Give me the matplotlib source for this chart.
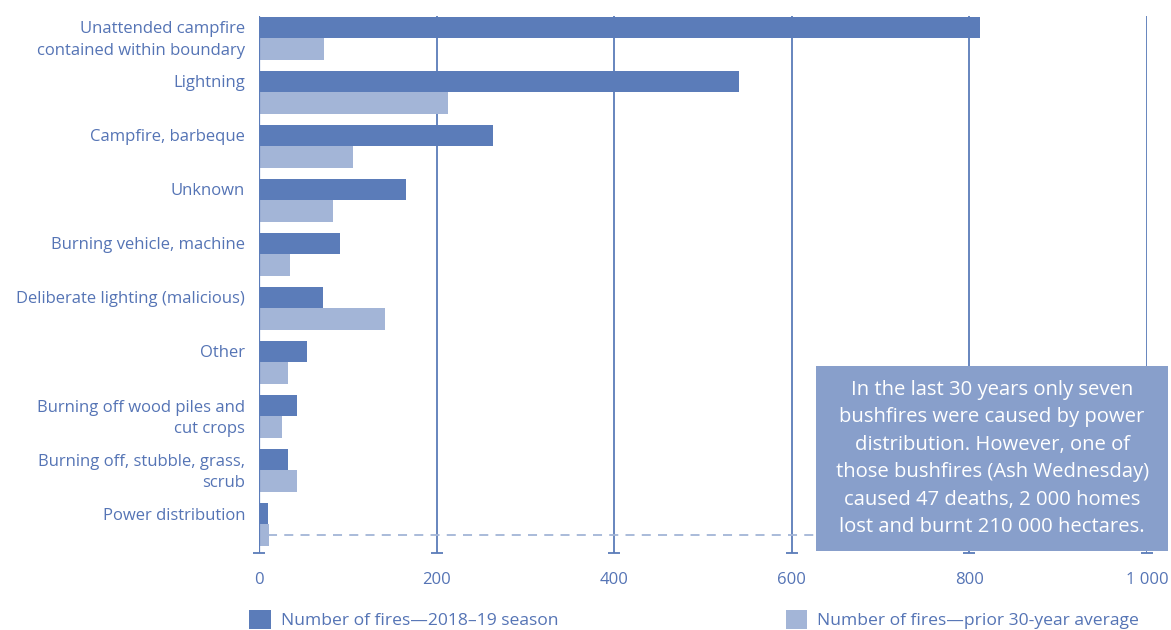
import numpy as np
import matplotlib.pyplot as plt
from matplotlib.patches import Rectangle

plt.rcParams['font.family'] = ['Open Sans', 'DejaVu Sans']

causes = [
    "Unattended campfire\ncontained within boundary",
    "Lightning",
    "Campfire, barbeque",
    "Unknown",
    "Burning vehicle, machine",
    "Deliberate lighting (malicious)",
    "Other",
    "Burning off wood piles and\ncut crops",
    "Burning off, stubble, grass,\nscrub",
    "Power distribution",
]
season_2018_19 = [812, 540, 263, 166, 91, 72, 54, 43, 33, 10]
avg_30yr = [73, 213, 106, 83, 35, 142, 33, 26, 43, 11]
xticks = [0, 200, 400, 600, 800, 1000]
xticklabels = ["0", "200", "400", "600", "800", "1 000"]
note = ("In the last 30 years only seven\nbushfires were caused by power\n"
        "distribution. However, one of\nthose bushfires (Ash Wednesday)\n"
        "caused 47 deaths, 2 000 homes\nlost and burnt 210 000 hectares.")

dark = '#5b7cb9'
light = '#a3b5d7'
txt = '#5574b5'
boxc = '#889fcb'

fig = plt.figure(figsize=(11.71, 6.30), dpi=100)
ax = fig.add_axes([0.2212, 0.1222, 0.7583, 0.8524])

y = np.arange(len(causes))
h = 0.4
ax.barh(y - h / 2, season_2018_19, height=h, color=dark, zorder=3,
        label='Number of fires\u20142018\u201319 season')
ax.barh(y + h / 2, avg_30yr, height=h, color=light, zorder=3,
        label='Number of fires\u2014prior 30-year average')

ax.set_xlim(0, 1000)
ax.set_ylim(9.53, -0.41)

# grid lines with small caps at the bottom
for xv in xticks[1:]:
    ax.axvline(xv, color=dark, lw=1.3, zorder=1)
ax.plot(xticks, [9.53] * len(xticks), ls='none', marker='_', ms=9, mew=1.3,
        color=dark, clip_on=False, zorder=4)
ax.axvline(0, color=dark, lw=1.6, zorder=4)

# dashed line for the power distribution average
ax.plot([10, 630], [9.2, 9.2], ls=(0, (5, 4)), color=light, lw=1.3, zorder=2)

for s in ax.spines.values():
    s.set_visible(False)

ax.set_xticks(xticks)
ax.set_xticklabels(xticklabels)
ax.tick_params(axis='x', length=0, pad=14, labelsize=12, labelcolor=txt)

first = [c.split('\n')[0] for c in causes]
second = [c.split('\n')[1] if '\n' in c else '' for c in causes]
ax.set_yticks(y - h / 2)
ax.set_yticklabels(first)
ax.set_yticks(y + h / 2, minor=True)
ax.set_yticklabels(second, minor=True)
ax.tick_params(axis='y', which='both', length=0, pad=10, labelsize=12,
               labelcolor=txt)

# note box
fig.patches.append(Rectangle((0.6968, 0.1254), 0.3006, 0.2937,
                             transform=fig.transFigure, fc=boxc, ec='none',
                             zorder=5))
fig.text(0.8472, 0.2722, note, ha='center', va='center', fontsize=14.6,
         color='white', linespacing=1.5, zorder=6)

ax.legend(loc='upper left', bbox_to_anchor=(-0.029, -0.077), ncol=2,
          frameon=False, fontsize=12.6, labelcolor=txt, handlelength=1.25,
          handleheight=1.25, columnspacing=13.0, handletextpad=0.55)

fig.savefig('out.png', dpi=100)
